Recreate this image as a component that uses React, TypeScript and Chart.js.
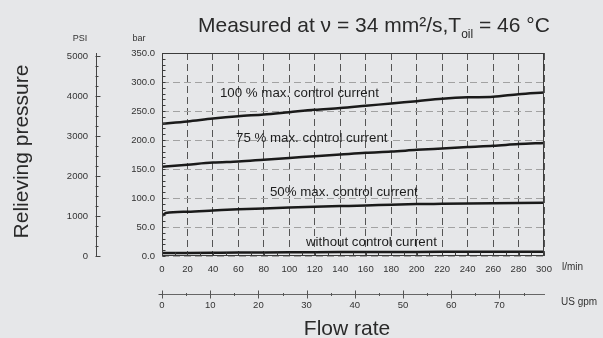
import React, { useEffect, useRef } from 'react';
import { Chart, registerables } from 'chart.js';

Chart.register(...registerables);

// ---------- data ----------
const flowRates = [0, 20, 40, 60, 80, 100, 120, 140, 160, 180, 200, 220, 240, 260, 280, 300];
const pressure100 = [228, 232, 237, 241, 244, 248, 252, 255, 259, 263, 267, 271, 273.5, 274.5, 279, 282];
const pressure75 = [154, 157.5, 161, 163, 166, 169, 172, 175, 178, 180, 183, 185.5, 188, 190, 193, 195];
const flowRates50 = [0, 3, 20, 40, 60, 80, 100, 120, 140, 160, 180, 200, 220, 240, 260, 280, 300];
const pressure50 = [69, 74, 76.5, 78.5, 80.5, 82, 83.5, 85, 86, 87, 88.5, 89.5, 90, 90.5, 91, 91.5, 92];
const pressure0 = [5, 5.3, 5.6, 5.9, 6.1, 6.3, 6.5, 6.7, 6.9, 7.0, 7.1, 7.2, 7.3, 7.4, 7.5, 7.5];

const psiTickValues = [0, 1000, 2000, 3000, 4000, 5000];
const gpmTickValues = [0, 10, 20, 30, 40, 50, 60, 70];

const curveLabels = ['100 % max. control current', '75 % max. control current', '50% max. control current', 'without control current'];
const curveLabelFlow = [45.5, 58.1, 84.8, 113.1];
const curveLabelBar = [274.7, 197, 102.6, 17.2];

const titleMain = 'Measured at \u03bd = 34 mm\u00b2/s,T';
const titleSub = 'oil';
const titleEnd = ' = 46 \u00b0C';
const yTitle = 'Relieving pressure';
const xTitle = 'Flow rate';
const psiUnit = 'PSI';
const barUnit = 'bar';
const flowUnit = 'l/min';
const gpmUnit = 'US gpm';

const barMin = 0;
const barMax = 350;
const barStep = 50;
const barMinorStep = 10;
const flowMin = 0;
const flowMax = 300;
const flowStep = 20;
const flowMinorStep = 10;
const psiStep = 1000;
const psiMinorStep = 250;
const gpmStep = 10;
const gpmMinorStep = 5;

const PSI_PER_BAR = 14.5038;
const LPM_PER_GPM = 3.785411784;

const FONT = "'Liberation Sans', Arial, Helvetica, sans-serif";
const BG = '#e6e7e9';
const INK = '#2a2a2a';

const toXY = (xs: number[], ys: number[]) => xs.map((x, i) => ({ x, y: ys[i] }));

const decorPlugin = {
  id: 'decor',
  beforeDraw(chart: any) {
    const ctx = chart.ctx;
    ctx.save();
    ctx.fillStyle = BG;
    ctx.fillRect(0, 0, chart.width, chart.height);
    ctx.restore();
  },
  afterDraw(chart: any) {
    const ctx = chart.ctx;
    const { left, right, top, bottom } = chart.chartArea;
    const sx = chart.scales.x;
    const sy = chart.scales.y;
    const sp = chart.scales.yPsi;
    const sg = chart.scales.xg;
    ctx.save();
    ctx.strokeStyle = '#3c3c3c';
    ctx.lineWidth = 1;
    const L = Math.round(left) + 0.5;
    const R = Math.round(right) - 0.5;
    const T = Math.round(top) + 0.5;
    const B = Math.round(bottom) - 0.5;
    ctx.strokeRect(L, T, R - L, B - T);

    ctx.beginPath();
    for (let v = barMin; v <= barMax; v += barMinorStep) {
      const py = Math.round(sy.getPixelForValue(v)) + 0.5;
      ctx.moveTo(L, py);
      ctx.lineTo(L + 3, py);
    }
    for (let v = flowMin; v <= flowMax; v += flowMinorStep) {
      const px = Math.round(sx.getPixelForValue(v)) + 0.5;
      ctx.moveTo(px, B);
      ctx.lineTo(px, B - 3);
    }
    ctx.stroke();

    // PSI ticks
    ctx.strokeStyle = '#444';
    ctx.beginPath();
    const pr = Math.round(sp.right) - 0.5;
    const psiTop = psiTickValues[psiTickValues.length - 1];
    for (let p = 0; p <= psiTop; p += psiMinorStep) {
      const py = Math.round(sp.getPixelForValue(p)) + 0.5;
      const len = p % psiStep === 0 ? 5 : 3;
      ctx.moveTo(pr, py);
      ctx.lineTo(pr + len, py);
    }
    ctx.stroke();

    // gpm ticks
    ctx.strokeStyle = '#555';
    ctx.beginPath();
    const gy = Math.round(sg.top) + 0.5;
    const gpmTop = flowMax / LPM_PER_GPM;
    for (let g = 0; g <= gpmTop; g += gpmMinorStep) {
      const px = Math.round(sg.getPixelForValue(g)) + 0.5;
      const len = g % gpmStep === 0 ? 4 : 1.5;
      ctx.moveTo(px, gy - len);
      ctx.lineTo(px, gy + len);
      if (g === 0) {
        ctx.moveTo(px - 4, gy);
        ctx.lineTo(px, gy);
      }
    }
    ctx.stroke();

    // curve labels
    ctx.fillStyle = '#1e1e1e';
    ctx.font = `13.3px ${FONT}`;
    ctx.textAlign = 'left';
    ctx.textBaseline = 'alphabetic';
    curveLabels.forEach((t, i) => {
      ctx.fillText(t, sx.getPixelForValue(curveLabelFlow[i]), sy.getPixelForValue(curveLabelBar[i]));
    });

    // title
    ctx.fillStyle = INK;
    ctx.font = `21px ${FONT}`;
    let tx = 198;
    const ty = 31.5;
    ctx.fillText(titleMain, tx, ty);
    tx += ctx.measureText(titleMain).width;
    ctx.font = `12px ${FONT}`;
    ctx.fillText(titleSub, tx, ty + 6.5);
    tx += ctx.measureText(titleSub).width;
    ctx.font = `21px ${FONT}`;
    ctx.fillText(titleEnd, tx, ty);

    // axis titles
    ctx.textAlign = 'center';
    ctx.fillText(xTitle, 347, 335);
    ctx.save();
    ctx.translate(28, 151.5);
    ctx.rotate(-Math.PI / 2);
    ctx.fillText(yTitle, 0, 0);
    ctx.restore();

    // units
    ctx.fillStyle = '#333';
    ctx.font = `9px ${FONT}`;
    ctx.textBaseline = 'middle';
    ctx.textAlign = 'center';
    ctx.fillText(psiUnit, 80, 38.5);
    ctx.fillText(barUnit, 139, 38.5);
    ctx.font = `10px ${FONT}`;
    ctx.textAlign = 'left';
    ctx.fillText(flowUnit, 562, 267.5);
    ctx.fillText(gpmUnit, 561, 302.5);
    ctx.restore();
  },
};

export default function App() {
  const ref = useRef<HTMLCanvasElement>(null);
  useEffect(() => {
    if (!ref.current) return;
    Chart.defaults.font.family = FONT;
    const lineStyle = {
      showLine: true,
      borderColor: '#1a1a1a',
      backgroundColor: '#1a1a1a',
      borderWidth: 2.5,
      pointRadius: 0,
      cubicInterpolationMode: 'monotone' as const,
      fill: false,
    };
    const chart = new Chart(ref.current, {
      type: 'scatter',
      data: {
        datasets: [
          { label: '100 %', data: toXY(flowRates, pressure100), ...lineStyle },
          { label: '75 %', data: toXY(flowRates, pressure75), ...lineStyle },
          { label: '50 %', data: toXY(flowRates50, pressure50), ...lineStyle },
          { label: '0 %', data: toXY(flowRates, pressure0), ...lineStyle },
        ],
      },
      options: {
        responsive: false,
        animation: false,
        devicePixelRatio: 1,
        layout: { padding: { top: 53, right: 59, left: 0, bottom: 0 } },
        plugins: { legend: { display: false }, tooltip: { enabled: false }, title: { display: false } },
        scales: {
          x: {
            type: 'linear',
            position: 'bottom',
            weight: 0,
            min: flowMin,
            max: flowMax,
            ticks: { stepSize: flowStep, padding: 8, color: '#333', font: { size: 9.5 }, maxRotation: 0 },
            grid: { color: '#555', lineWidth: 1, drawTicks: false },
            border: { display: false, dash: [7, 4] },
            afterFit: (s: any) => { s.height = 38; },
          },
          xg: {
            type: 'linear',
            position: 'bottom',
            weight: 1,
            min: flowMin / LPM_PER_GPM,
            max: flowMax / LPM_PER_GPM,
            afterBuildTicks: (s: any) => { s.ticks = gpmTickValues.map((value) => ({ value })); },
            ticks: {
              padding: 6,
              color: '#333',
              font: { size: 9.5 },
              maxRotation: 0,
              autoSkip: false,
              callback: (v: any) => String(v),
            },
            grid: { display: false, drawTicks: false },
            border: { display: true, color: '#666', width: 1 },
            afterFit: (s: any) => { s.height = 44; },
          },
          y: {
            type: 'linear',
            position: 'left',
            weight: 0,
            min: barMin,
            max: barMax,
            ticks: {
              stepSize: barStep,
              padding: 7,
              color: '#333',
              font: { size: 9.5 },
              callback: (v: any) => Number(v).toFixed(1),
            },
            grid: { color: '#a2a2a2', lineWidth: 1, drawTicks: false },
            border: { display: false, dash: [7, 4] },
            afterFit: (s: any) => { s.width = 66; },
          },
          yPsi: {
            type: 'linear',
            position: 'left',
            weight: 1,
            min: barMin * PSI_PER_BAR,
            max: barMax * PSI_PER_BAR,
            afterBuildTicks: (s: any) => { s.ticks = psiTickValues.map((value) => ({ value })); },
            ticks: {
              padding: 8,
              color: '#333',
              font: { size: 9.5 },
              autoSkip: false,
              callback: (v: any) => String(v),
            },
            grid: { display: false, drawTicks: false },
            border: { display: true, color: '#444', width: 1 },
            afterFit: (s: any) => { s.width = 96; },
          },
        },
      } as any,
      plugins: [decorPlugin],
    });
    return () => chart.destroy();
  }, []);
  return (
    <div style={{ position: 'absolute', left: 0, top: 0, width: 603, height: 338, background: BG }}>
      <canvas ref={ref} width={603} height={338} style={{ display: 'block' }} />
    </div>
  );
}
